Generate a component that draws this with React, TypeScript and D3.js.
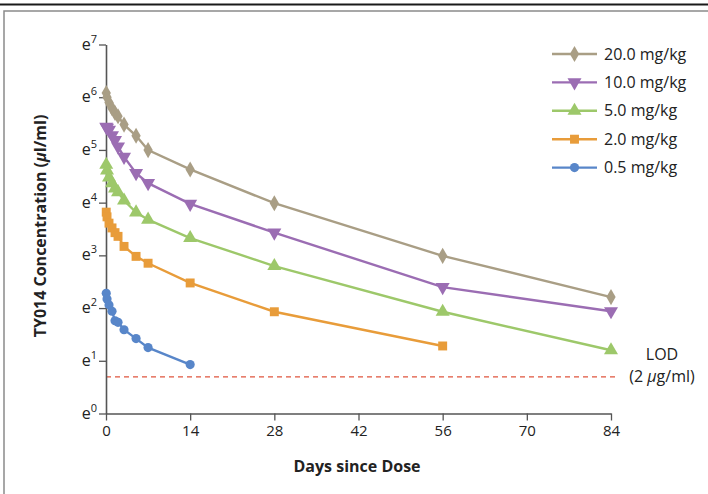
import React, { useEffect, useRef } from "react";
import * as d3 from "d3";

// sampling days (shared), values in µg/ml
const days = [0.04, 0.17, 0.5, 1, 1.5, 2, 3, 5, 7, 14, 28, 56, 84];

const dose20 = [437, 403, 365, 327, 299, 281, 240, 194, 148, 102.5, 54, 19.9, 9.1];
const dose10 = [230, 226, 217, 196, 179, 158, 130, 95.6, 79, 53.3, 30.9, 11.0, 6.96];
const dose5 = [112, 100.5, 88.2, 79, 71.5, 66.7, 56.8, 45.4, 39.5, 27.9, 16.4, 6.89, 3.32];
const dose2 = [45.6, 41.7, 37.0, 33.8, 30.9, 28.8, 23.8, 19.7, 17.3, 11.9, 6.89, 3.6, null];
const dose05 = [9.78, 8.76, 7.85, 6.96, 5.81, 5.64, 4.9, 4.14, 3.49, 2.53, null, null, null];

const seriesNames = ["20.0 mg/kg", "10.0 mg/kg", "5.0 mg/kg", "2.0 mg/kg", "0.5 mg/kg"];
const xTicks = [0, 14, 28, 42, 56, 70, 84];
const yExponents = [0, 1, 2, 3, 4, 5, 6, 7];
const lod = 2;

const series = [
  { name: seriesNames[0], values: dose20, color: "#a99e85", shape: "diamond" },
  { name: seriesNames[1], values: dose10, color: "#9b6db3", shape: "down" },
  { name: seriesNames[2], values: dose5, color: "#9dc86a", shape: "up" },
  { name: seriesNames[3], values: dose2, color: "#e89c3a", shape: "square" },
  { name: seriesNames[4], values: dose05, color: "#5886c9", shape: "circle" },
];

const FONT = "'Open Sans', Lato, sans-serif";

const symbolPath = (shape: string) => {
  if (shape === "diamond") return d3.symbol(d3.symbolDiamond, 75)();
  if (shape === "square") return d3.symbol(d3.symbolSquare, 80)();
  if (shape === "circle") return d3.symbol(d3.symbolCircle, 66)();
  return d3.symbol(d3.symbolTriangle, 85)();
};

const Chart = () => {
  const ref = useRef<SVGSVGElement | null>(null);

  useEffect(() => {
    const svg = d3.select(ref.current);
    svg.selectAll("*").remove();

    const x = d3.scaleLinear().domain([0, 84]).range([106, 611]);
    const y = d3
      .scaleLog()
      .base(Math.E)
      .domain([1, Math.exp(7)])
      .range([413.5, 44.5]);

    // frame
    svg.append("line").attr("x1", 0).attr("x2", 708).attr("y1", 4.5).attr("y2", 4.5)
      .attr("stroke", "#1a1a1a").attr("stroke-width", 1.8);
    svg.append("path").attr("d", "M4,494 V11 H708").attr("fill", "none")
      .attr("stroke", "#8a8a8a").attr("stroke-width", 1.5);

    // LOD
    svg.append("line")
      .attr("x1", x(0)).attr("x2", 615)
      .attr("y1", y(lod)).attr("y2", y(lod))
      .attr("stroke", "#e0553e").attr("stroke-width", 1.2)
      .attr("stroke-dasharray", "5,4");
    svg.append("text").attr("x", 662).attr("y", 360).attr("text-anchor", "middle")
      .attr("font-family", FONT).attr("font-size", 16).attr("fill", "#222").text("LOD");
    const lodT = svg.append("text").attr("x", 662).attr("y", 382).attr("text-anchor", "middle")
      .attr("font-family", FONT).attr("font-size", 16).attr("fill", "#222");
    lodT.append("tspan").text("(2 ");
    lodT.append("tspan").attr("font-style", "italic").text("μ");
    lodT.append("tspan").text("g/ml)");

    // axes
    const axisColor = "#555";
    const xAxis = svg.append("g").attr("transform", `translate(0,${y(1)})`)
      .call(d3.axisBottom(x).tickValues(xTicks).tickSize(7).tickSizeOuter(0));
    xAxis.select(".domain").attr("stroke", axisColor).attr("stroke-width", 1.6);
    xAxis.selectAll(".tick line").attr("stroke", axisColor).attr("stroke-width", 1.3);
    xAxis.selectAll(".tick text").attr("font-family", FONT).attr("font-size", 15)
      .attr("fill", "#222").attr("dy", "0.8em");

    const yAxis = svg.append("g").attr("transform", `translate(${x(0)},0)`)
      .call(d3.axisLeft(y).tickValues(yExponents.map((e) => Math.exp(e))).tickSize(7)
        .tickSizeOuter(0).tickFormat(() => ""));
    yAxis.select(".domain").attr("stroke", axisColor).attr("stroke-width", 1.6);
    yAxis.selectAll(".tick line").attr("stroke", axisColor).attr("stroke-width", 1.3);
    yExponents.forEach((e) => {
      const t = svg.append("text").attr("x", 97).attr("y", y(Math.exp(e)) + 5)
        .attr("text-anchor", "end").attr("font-family", FONT).attr("fill", "#222");
      t.append("tspan").attr("font-size", 16).text("e");
      t.append("tspan").attr("font-size", 11).attr("dy", -7).text(String(e));
    });

    // titles
    svg.append("text").attr("x", 357).attr("y", 472).attr("text-anchor", "middle")
      .attr("font-family", FONT).attr("font-weight", "bold").attr("font-size", 16)
      .attr("fill", "#222").text("Days since Dose");
    const yt = svg.append("text").attr("transform", "translate(46,226) rotate(-90)")
      .attr("text-anchor", "middle").attr("font-family", FONT).attr("font-weight", "bold")
      .attr("font-size", 16).attr("fill", "#222");
    yt.append("tspan").text("TY014 Concentration (");
    yt.append("tspan").attr("font-style", "italic").text("μ");
    yt.append("tspan").text("l/ml)");

    // series, drawn bottom dose first
    const line = d3.line<[number, number]>().x((d) => x(d[0])).y((d) => y(d[1]));
    series.slice().reverse().forEach((s) => {
      const pts = days
        .map((d, i) => [d, s.values[i]] as [number, number | null])
        .filter((p) => p[1] != null) as [number, number][];
      const g = svg.append("g");
      g.append("path").attr("d", line(pts)).attr("fill", "none")
        .attr("stroke", s.color).attr("stroke-width", 2.4);
      g.selectAll("path.m").data(pts).join("path").attr("class", "m")
        .attr("d", symbolPath(s.shape))
        .attr("transform", (p) =>
          `translate(${x(p[0])},${y(p[1])})${s.shape === "down" ? " rotate(180)" : ""}`)
        .attr("fill", s.color);
    });

    // legend
    const lg = svg.append("g");
    series.forEach((s, i) => {
      const cy = 54 + i * 28.4;
      lg.append("line").attr("x1", 552).attr("x2", 597).attr("y1", cy).attr("y2", cy)
        .attr("stroke", s.color).attr("stroke-width", 2.4);
      lg.append("path").attr("d", symbolPath(s.shape))
        .attr("transform", `translate(574.5,${cy})${s.shape === "down" ? " rotate(180)" : ""}`)
        .attr("fill", s.color);
      lg.append("text").attr("x", 604).attr("y", cy + 5.5).attr("font-family", FONT)
        .attr("font-size", 16).attr("fill", "#222").text(s.name);
    });
  }, []);

  return <svg ref={ref} width={708} height={494} style={{ display: "block" }} />;
};

export default function App() {
  return (
    <div style={{ position: "absolute", left: 0, top: 0, width: 708, height: 494, background: "#fff" }}>
      <Chart />
    </div>
  );
}
